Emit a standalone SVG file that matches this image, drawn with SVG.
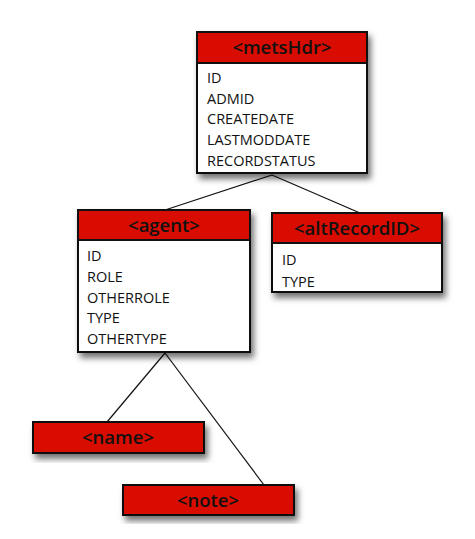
<svg xmlns="http://www.w3.org/2000/svg" width="475" height="539" viewBox="0 0 475 539">
<defs>
<filter id="sh" x="-10%" y="-10%" width="130%" height="140%">
<feDropShadow dx="3" dy="5" stdDeviation="3" flood-color="#000" flood-opacity="0.55"/>
</filter>
<style>
.box{fill:#fff;stroke:#111;stroke-width:2}
.hdr{fill:#d80c00;stroke:#111;stroke-width:2}
.ht{font-family:"Open Sans","Liberation Sans",sans-serif;font-size:18.5px;font-weight:600;fill:#111;text-anchor:middle}
.t{font-family:"Open Sans","Liberation Sans",sans-serif;font-size:14.5px;fill:#111}
.ln{stroke:#111;stroke-width:1.2;fill:none}
</style>
</defs>
<rect width="475" height="539" fill="#fff"/>
<g id="connectors">
<line class="ln" x1="272" y1="175" x2="165" y2="210"/>
<line class="ln" x1="272" y1="175" x2="360" y2="213"/>
<line class="ln" x1="165" y1="353" x2="107" y2="422"/>
<line class="ln" x1="165" y1="353" x2="264" y2="485"/>
</g>
<g id="metsHdr">
<rect class="box" x="197" y="32" width="170" height="141" filter="url(#sh)"/>
<rect class="hdr" x="197" y="32" width="170" height="31"/>
<text class="ht" x="282" y="54">&lt;metsHdr&gt;</text>
<text class="t" x="207" y="83">ID</text>
<text class="t" x="207" y="104">ADMID</text>
<text class="t" x="207" y="124">CREATEDATE</text>
<text class="t" x="207" y="145">LASTMODDATE</text>
<text class="t" x="207" y="166">RECORDSTATUS</text>
</g>
<g id="agent">
<rect class="box" x="78" y="210" width="172" height="142" filter="url(#sh)"/>
<rect class="hdr" x="78" y="210" width="172" height="30"/>
<text class="ht" x="164" y="232">&lt;agent&gt;</text>
<text class="t" x="87" y="261">ID</text>
<text class="t" x="87" y="282">ROLE</text>
<text class="t" x="87" y="303">OTHERROLE</text>
<text class="t" x="87" y="323">TYPE</text>
<text class="t" x="87" y="344">OTHERTYPE</text>
</g>
<g id="altRecordID">
<rect class="box" x="272" y="213" width="170" height="79" filter="url(#sh)"/>
<rect class="hdr" x="272" y="213" width="170" height="30"/>
<text class="ht" x="357" y="235">&lt;altRecordID&gt;</text>
<text class="t" x="282" y="265">ID</text>
<text class="t" x="282" y="287">TYPE</text>
</g>
<g id="name">
<rect class="hdr" x="33" y="422" width="171" height="31" filter="url(#sh)"/>
<text class="ht" x="118" y="444">&lt;name&gt;</text>
</g>
<g id="note">
<rect class="hdr" x="123" y="485" width="171" height="30" filter="url(#sh)"/>
<text class="ht" x="208" y="507">&lt;note&gt;</text>
</g>
</svg>
